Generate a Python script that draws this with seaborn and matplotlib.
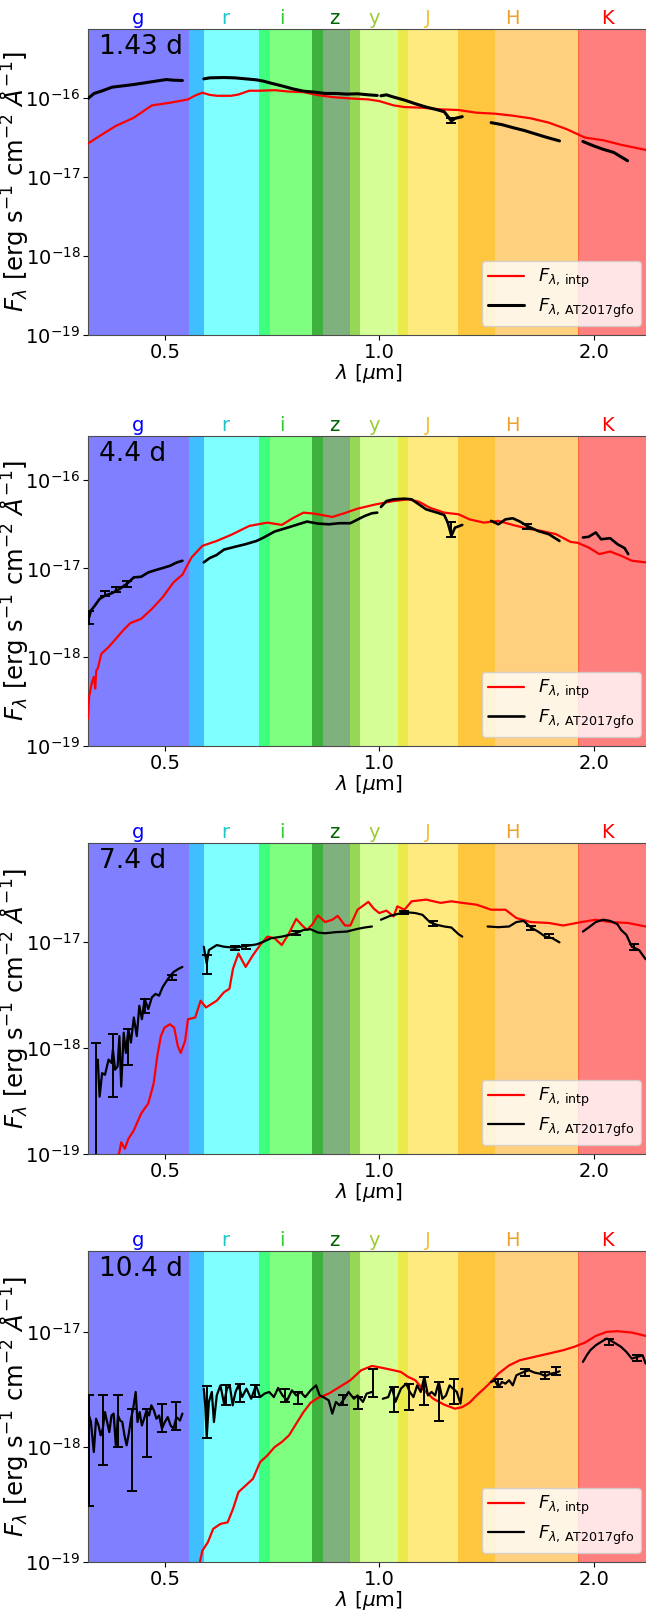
import numpy as np
import matplotlib
matplotlib.use("Agg")
import matplotlib.pyplot as plt
import seaborn as sns
from matplotlib.ticker import FixedLocator, FixedFormatter, NullLocator, LogLocator

# ---------------- data ----------------
epochs = ["1.43 d", "4.4 d", "7.4 d", "10.4 d"]
ytops = [7.5e-16, 3.1e-16, 8.5e-17, 5.0e-17]

bands = ["g", "r", "i", "z", "y", "J", "H", "K"]
band_lo = [0.30, 0.541, 0.677, 0.804, 0.909, 1.061, 1.288, 1.900]
band_hi = [0.567, 0.702, 0.833, 0.939, 1.099, 1.453, 1.906, 2.60]
band_fill = ["blue", "cyan", "lime", "darkgreen", "greenyellow", "gold", "orange", "red"]
band_label_x = [0.458, 0.607, 0.73, 0.865, 0.985, 1.17, 1.536, 2.09]
band_text = ["blue", "#1cc4cc", "#2ecc2e", "darkgreen", "yellowgreen", "#f2c12e", "#eda12a", "red"]

# ---- panel 1 (1.43 d)
red1_lam = [0.390, 0.4072, 0.4267, 0.4523, 0.4795, 0.5082, 0.5388, 0.5515, 0.5645, 0.5778, 0.5914,
            0.6197, 0.6343, 0.657, 0.6804, 0.7129, 0.7464, 0.7828, 0.82, 0.8592, 0.9108, 0.9655,
            0.9999, 1.0478, 1.085, 1.150, 1.219, 1.293, 1.370, 1.453, 1.540, 1.633, 1.730, 1.835,
            1.945, 2.062, 2.186, 2.366, 2.45]
red1_flux = [2.66e-17, 3.42e-17, 4.44e-17, 5.65e-17, 8.09e-17, 8.73e-17, 9.62e-17, 1.08e-16, 1.17e-16,
             1.10e-16, 1.07e-16, 1.07e-16, 1.11e-16, 1.24e-16, 1.24e-16, 1.26e-16, 1.21e-16, 1.19e-16,
             1.09e-16, 1.03e-16, 9.90e-17, 9.62e-17, 9.17e-17, 8.09e-17, 7.70e-17, 7.55e-17, 7.20e-17,
             7.06e-17, 6.53e-17, 6.35e-17, 5.99e-17, 5.54e-17, 4.89e-17, 4.03e-17, 3.16e-17, 2.93e-17,
             2.56e-17, 2.21e-17, 2.05e-17]
obs1_lam = [
    [0.390, 0.3978, 0.4072, 0.4217, 0.4368, 0.4523, 0.4683, 0.4851, 0.5024, 0.5142, 0.5292],
    [0.5671, 0.5778, 0.6054, 0.6269, 0.6493, 0.6726, 0.6884, 0.7045, 0.7296, 0.7557, 0.7828, 0.8105,
     0.8395, 0.8693, 0.9004, 0.9322, 0.9655, 0.9936],
    [1.0055, 1.0236, 1.0478, 1.085, 1.1238, 1.1638, 1.2052, 1.2337, 1.2627, 1.2777, 1.308],
    [1.436, 1.487, 1.540, 1.595, 1.652, 1.711, 1.791],
    [1.932, 2.001, 2.062, 2.135, 2.186, 2.232],
]
obs1_flux = [
    [9.90e-17, 1.145e-16, 1.225e-16, 1.376e-16, 1.43e-16, 1.487e-16, 1.56e-16, 1.637e-16, 1.719e-16,
     1.686e-16, 1.67e-16],
    [1.753e-16, 1.804e-16, 1.822e-16, 1.804e-16, 1.753e-16, 1.702e-16, 1.637e-16, 1.546e-16, 1.43e-16,
     1.311e-16, 1.225e-16, 1.19e-16, 1.145e-16, 1.145e-16, 1.123e-16, 1.134e-16, 1.10e-16, 1.08e-16],
    [1.07e-16, 1.10e-16, 1.03e-16, 9.44e-17, 8.48e-17, 7.70e-17, 7.13e-17, 6.72e-17, 5.13e-17, 5.54e-17,
     5.82e-17],
    [4.89e-17, 4.61e-17, 4.23e-17, 3.91e-17, 3.55e-17, 3.22e-17, 2.87e-17],
    [2.82e-17, 2.48e-17, 2.25e-17, 2.05e-17, 1.80e-17, 1.61e-17],
]
err1_lam = [1.2627]
err1_lo = [4.9e-17]
err1_hi = [5.6e-17]

# ---- panel 2 (4.4 d)
red2_lam = [0.390, 0.3914, 0.3946, 0.3974, 0.3992, 0.4006, 0.4025, 0.4072, 0.4168, 0.4267, 0.4368,
            0.4471, 0.463, 0.4795, 0.4964, 0.5142, 0.5292, 0.5450, 0.5645, 0.5914, 0.6197, 0.657,
            0.6966, 0.7298, 0.7557, 0.7828, 0.8105, 0.8592, 0.8898, 0.9322, 0.9884, 1.0478, 1.0978,
            1.1369, 1.1775, 1.2337, 1.2926, 1.3387, 1.4027, 1.4698, 1.540, 1.6134, 1.6905, 1.7711,
            1.8560, 1.9006, 1.9677, 2.0375, 2.1098, 2.1855, 2.2635, 2.366]
red2_flux = [2.04e-19, 3.57e-19, 5.05e-19, 6.0e-19, 4.44e-19, 7.11e-19, 7.43e-19, 1.094e-18, 1.30e-18,
             1.61e-18, 2.0e-18, 2.42e-18, 2.70e-18, 3.50e-18, 4.73e-18, 6.97e-18, 8.49e-18, 1.33e-17,
             1.795e-17, 2.04e-17, 2.39e-17, 3.01e-17, 3.28e-17, 3.09e-17, 3.67e-17, 4.25e-17, 4.14e-17,
             3.80e-17, 4.14e-17, 4.71e-17, 5.26e-17, 5.74e-17, 6.0e-17, 5.64e-17, 4.83e-17, 4.25e-17,
             4.07e-17, 3.57e-17, 3.28e-17, 3.43e-17, 3.09e-17, 2.81e-17, 2.64e-17, 2.43e-17, 1.99e-17,
             1.94e-17, 1.72e-17, 1.45e-17, 1.55e-17, 1.39e-17, 1.22e-17, 1.17e-17]
obs2_lam = [
    [0.3914, 0.3937, 0.3978, 0.4049, 0.412, 0.4217, 0.4317, 0.4419, 0.4523, 0.463, 0.4739, 0.4851,
     0.4964, 0.5082, 0.5201, 0.5292],
    [0.5671, 0.5778, 0.5914, 0.6054, 0.6269, 0.6493, 0.6726, 0.6884, 0.7129, 0.7383, 0.7646, 0.7918,
     0.82, 0.8493, 0.8795, 0.9108, 0.9322, 0.9544, 0.9768, 0.9936],
    [1.0055, 1.0236, 1.0478, 1.085, 1.1104, 1.1369, 1.1638, 1.2052, 1.2337, 1.2481, 1.2627, 1.2777, 1.308],
    [1.436, 1.470, 1.504, 1.540, 1.576, 1.613, 1.671, 1.730, 1.791],
    [1.932, 1.968, 2.014, 2.049, 2.110, 2.160, 2.211, 2.237],
]
obs2_flux = [
    [2.82e-18, 3.35e-18, 3.72e-18, 4.53e-18, 4.93e-18, 5.28e-18, 5.86e-18, 6.67e-18, 7.93e-18, 8.05e-18,
     9.01e-18, 9.57e-18, 1.009e-17, 1.07e-17, 1.17e-17, 1.22e-17],
    [1.17e-17, 1.306e-17, 1.42e-17, 1.63e-17, 1.75e-17, 1.875e-17, 2.04e-17, 2.23e-17, 2.60e-17, 2.83e-17,
     3.09e-17, 3.37e-17, 3.20e-17, 3.14e-17, 3.23e-17, 3.23e-17, 3.55e-17, 3.90e-17, 4.18e-17, 4.25e-17],
    [4.92e-17, 5.74e-17, 6.0e-17, 6.1e-17, 6.0e-17, 5.26e-17, 4.63e-17, 4.25e-17, 4.0e-17, 3.28e-17,
     2.33e-17, 2.88e-17, 3.09e-17],
    [3.43e-17, 3.14e-17, 3.57e-17, 3.67e-17, 3.37e-17, 3.01e-17, 2.64e-17, 2.43e-17, 2.04e-17],
    [2.23e-17, 2.27e-17, 2.54e-17, 2.13e-17, 2.19e-17, 1.875e-17, 1.69e-17, 1.45e-17],
]
err2_lam = [0.3914, 0.412, 0.4267, 0.4419, 1.2627, 1.6134]
err2_lo = [2.37e-18, 4.85e-18, 5.38e-18, 6.22e-18, 2.27e-17, 2.75e-17]
err2_hi = [3.35e-18, 5.62e-18, 6.12e-18, 7.28e-18, 3.3e-17, 3.2e-17]

# ---- panel 3 (7.4 d)
red3_lam = [0.425, 0.4317, 0.4342, 0.4394, 0.4444, 0.4523, 0.463, 0.4739, 0.4823, 0.4879, 0.4936,
            0.4994, 0.5082, 0.5153, 0.5214, 0.5263, 0.5338, 0.5388, 0.5515, 0.5613, 0.5711, 0.5914,
            0.6054, 0.6161, 0.6233, 0.6343, 0.6493, 0.6647, 0.6804, 0.6965, 0.7129, 0.7298, 0.7470,
            0.7646, 0.7781, 0.7918, 0.8059, 0.82, 0.8395, 0.8592, 0.8744, 0.8951, 0.9108, 0.9322,
            0.9655, 0.9825, 0.9999, 1.0236, 1.0478, 1.0601, 1.085, 1.1104, 1.1638, 1.2193, 1.2627,
            1.308, 1.3703, 1.436, 1.504, 1.558, 1.6325, 1.7304, 1.813, 1.922, 2.014, 2.110, 2.237, 2.366]
red3_flux = [8.0e-20, 1.04e-19, 1.29e-19, 1.12e-19, 1.39e-19, 1.67e-19, 2.40e-19, 2.99e-19, 4.64e-19,
             8.33e-19, 1.29e-18, 1.55e-18, 1.67e-18, 1.55e-18, 1.04e-18, 8.96e-19, 1.16e-18, 1.86e-18,
             1.93e-18, 2.78e-18, 2.40e-18, 2.78e-18, 3.34e-18, 3.60e-18, 5.57e-18, 7.74e-18, 5.78e-18,
             7.46e-18, 9.29e-18, 1.116e-17, 1.076e-17, 9.29e-18, 1.20e-17, 1.64e-17, 1.44e-17, 1.29e-17,
             1.46e-17, 1.77e-17, 1.53e-17, 1.61e-17, 1.75e-17, 1.42e-17, 1.42e-17, 2.0e-17, 2.37e-17,
             2.05e-17, 1.86e-17, 1.96e-17, 1.73e-17, 2.15e-17, 2.0e-17, 2.40e-17, 2.49e-17, 2.32e-17,
             2.40e-17, 2.32e-17, 2.23e-17, 2.0e-17, 2.0e-17, 1.67e-17, 1.53e-17, 1.50e-17, 1.42e-17,
             1.53e-17, 1.61e-17, 1.53e-17, 1.50e-17, 1.39e-17]
obs3_lam = [
    [0.4003, 0.4025, 0.4049, 0.4082, 0.4120, 0.4168, 0.4208, 0.4227, 0.4257, 0.4292, 0.4317, 0.4342,
     0.4377, 0.4408, 0.4444, 0.448, 0.4523, 0.4566, 0.4604, 0.4643, 0.4683, 0.4739, 0.4795, 0.4851,
     0.4908, 0.4964, 0.5053, 0.5142, 0.5232, 0.5292],
    [0.5671, 0.5698, 0.5725, 0.5765, 0.5813, 0.5914, 0.6054, 0.6269, 0.6493, 0.6726, 0.6884, 0.7045,
     0.7298, 0.7470, 0.7646, 0.7828, 0.8011, 0.82, 0.8395, 0.8693, 0.9004, 0.9322, 0.9544, 0.9768],
    [1.0055, 1.0356, 1.0601, 1.085, 1.1238, 1.150, 1.1775, 1.2052, 1.2337, 1.2627, 1.2926, 1.308],
    [1.4195, 1.470, 1.522, 1.558, 1.595, 1.633, 1.671, 1.711, 1.751, 1.791],
    [1.932, 1.968, 2.014, 2.062, 2.110, 2.160, 2.186, 2.224, 2.263, 2.317, 2.366],
]
obs3_flux = [
    [6.22e-19, 7.74e-19, 3.47e-19, 5.78e-19, 5.57e-19, 7.74e-19, 7.20e-19, 9.64e-19, 6.22e-19, 6.69e-19,
     1.29e-18, 4.32e-19, 1.39e-18, 8.96e-19, 1.50e-18, 1.12e-18, 1.93e-18, 1.29e-18, 2.49e-18, 1.86e-18,
     2.89e-18, 2.32e-18, 2.99e-18, 3.22e-18, 3.10e-18, 3.73e-18, 4.48e-18, 5.18e-18, 5.57e-18, 5.78e-18],
    [8.96e-18, 7.46e-18, 6.22e-18, 8.33e-18, 8.64e-18, 9.29e-18, 8.96e-18, 8.77e-18, 9.09e-18, 9.43e-18,
     1.0e-17, 1.076e-17, 1.116e-17, 1.157e-17, 1.20e-17, 1.29e-17, 1.31e-17, 1.22e-17, 1.20e-17,
     1.23e-17, 1.245e-17, 1.32e-17, 1.36e-17, 1.39e-17],
    [1.61e-17, 1.75e-17, 1.82e-17, 1.90e-17, 1.86e-17, 1.79e-17, 1.53e-17, 1.44e-17, 1.39e-17, 1.36e-17,
     1.175e-17, 1.116e-17],
    [1.39e-17, 1.37e-17, 1.39e-17, 1.53e-17, 1.57e-17, 1.36e-17, 1.245e-17, 1.116e-17, 1.076e-17, 9.85e-18],
    [1.245e-17, 1.36e-17, 1.53e-17, 1.61e-17, 1.57e-17, 1.46e-17, 1.29e-17, 1.157e-17, 8.96e-18, 8.33e-18,
     6.84e-18],
]
err3_lam = [0.4003, 0.4227, 0.4444, 0.4683, 0.511, 0.5725, 0.6269, 0.6493, 0.7646, 1.085, 1.19,
            1.633, 1.730, 2.28]
err3_lo = [1e-21, 3.47e-19, 6.93e-19, 2.15e-18, 4.31e-18, 4.99e-18, 8.4e-18, 8.6e-18, 1.15e-17,
           1.82e-17, 1.42e-17, 1.30e-17, 1.08e-17, 8.4e-18]
err3_hi = [1.12e-18, 1.34e-18, 1.50e-18, 2.89e-18, 4.82e-18, 7.46e-18, 9.2e-18, 9.4e-18, 1.25e-17,
           1.95e-17, 1.55e-17, 1.42e-17, 1.17e-17, 9.5e-18]

# ---- panel 4 (10.4 d)
red4_lam = [0.558, 0.5645, 0.5745, 0.5846, 0.5984, 0.6125, 0.6233, 0.6343, 0.6493, 0.6647, 0.6804,
            0.6965, 0.7129, 0.7298, 0.747, 0.7646, 0.7828, 0.8011, 0.82, 0.8493, 0.8795, 0.9108,
            0.9431, 0.9768, 1.0116, 1.0478, 1.0725, 1.0978, 1.1238, 1.150, 1.191, 1.2337, 1.2777,
            1.308, 1.3387, 1.3703, 1.4195, 1.470, 1.522, 1.576, 1.652, 1.730, 1.813, 1.877, 1.945,
            2.014, 2.086, 2.160, 2.263, 2.366]
red4_flux = [8.99e-20, 1.256e-19, 1.48e-19, 1.94e-19, 2.14e-19, 2.21e-19, 2.89e-19, 4.04e-19, 4.61e-19,
             5.27e-19, 7.36e-19, 8.41e-19, 9.93e-19, 1.10e-18, 1.256e-18, 1.585e-18, 2.0e-18, 2.41e-18,
             2.65e-18, 2.89e-18, 3.30e-18, 3.78e-18, 4.61e-18, 5.03e-18, 4.83e-18, 4.61e-18, 4.46e-18,
             4.04e-18, 3.78e-18, 3.19e-18, 2.61e-18, 2.32e-18, 2.14e-18, 2.21e-18, 2.41e-18, 2.79e-18,
             3.41e-18, 4.31e-18, 5.09e-18, 5.64e-18, 6.03e-18, 6.44e-18, 6.89e-18, 7.36e-18, 8.02e-18,
             9.17e-18, 9.93e-18, 1.007e-17, 9.8e-18, 9.17e-18]
obs4_lam = [
    [0.390, 0.3937, 0.3974, 0.4003, 0.4035, 0.4063, 0.4091, 0.412, 0.4149, 0.4178, 0.4208, 0.4237,
     0.4267, 0.4297, 0.4327, 0.4358, 0.4388, 0.4419, 0.445, 0.4482, 0.4513, 0.4550, 0.4577, 0.4609,
     0.4642, 0.4675, 0.4713, 0.4752, 0.4786, 0.4826, 0.4866, 0.4908, 0.4953, 0.5, 0.5047, 0.5094,
     0.5142, 0.519, 0.5251, 0.5292],
    [0.5671, 0.5698, 0.5725, 0.5765, 0.582, 0.586, 0.5914, 0.5984, 0.6054, 0.6111, 0.6168, 0.6226,
     0.6284, 0.6343, 0.6418, 0.6509, 0.661, 0.6712, 0.6804, 0.69, 0.7006, 0.7113, 0.7212, 0.7314,
     0.7426, 0.754, 0.7646, 0.7753, 0.7872, 0.8011, 0.8153, 0.8248, 0.8345, 0.8493, 0.8592, 0.8693,
     0.8795, 0.8898, 0.9055, 0.9214, 0.9322, 0.9487, 0.9599, 0.9768],
    [1.0116, 1.0296, 1.0417, 1.0539, 1.0725, 1.0913, 1.104, 1.117, 1.1304, 1.1436, 1.157, 1.1706,
     1.1844, 1.1982, 1.2123, 1.2265, 1.2409, 1.2554, 1.2702, 1.2851, 1.3002, 1.308],
    [1.436, 1.4527, 1.470, 1.487, 1.504, 1.522, 1.540, 1.558, 1.576, 1.595, 1.623, 1.652, 1.681,
     1.711, 1.741, 1.771, 1.791],
    [1.932, 1.956, 1.979, 2.014, 2.049, 2.086, 2.110, 2.148, 2.186, 2.224, 2.263, 2.303, 2.344, 2.366],
]
obs4_flux = [
    [2.0e-18, 1.64e-18, 9.0e-19, 1.75e-18, 1.53e-18, 1.256e-18, 1.435e-18, 2.0e-18, 1.64e-18, 1.34e-18,
     1.87e-18, 1.94e-18, 1.03e-18, 1.87e-18, 1.69e-18, 1.64e-18, 1.256e-18, 1.03e-18, 1.30e-18, 1.75e-18,
     2.14e-18, 2.99e-18, 1.64e-18, 2.0e-18, 1.53e-18, 1.75e-18, 2.07e-18, 1.87e-18, 2.29e-18, 2.07e-18,
     1.75e-18, 1.87e-18, 1.435e-18, 1.64e-18, 1.81e-18, 1.53e-18, 1.435e-18, 1.81e-18, 1.69e-18, 1.94e-18],
    [3.19e-18, 2.29e-18, 1.21e-18, 2.45e-18, 2.99e-18, 1.64e-18, 2.79e-18, 3.41e-18, 2.37e-18, 3.19e-18,
     3.41e-18, 2.29e-18, 2.99e-18, 3.41e-18, 2.70e-18, 3.19e-18, 2.61e-18, 3.41e-18, 2.70e-18, 2.89e-18,
     2.99e-18, 2.70e-18, 3.24e-18, 2.79e-18, 2.53e-18, 3.09e-18, 2.79e-18, 2.99e-18, 2.70e-18, 3.09e-18,
     3.41e-18, 2.79e-18, 2.70e-18, 2.53e-18, 1.94e-18, 2.45e-18, 2.29e-18, 2.53e-18, 2.99e-18, 2.61e-18,
     2.79e-18, 2.45e-18, 2.89e-18, 2.99e-18],
    [2.61e-18, 2.70e-18, 3.30e-18, 2.45e-18, 3.19e-18, 3.53e-18, 2.99e-18, 2.70e-18, 3.41e-18, 2.99e-18,
     4.04e-18, 2.79e-18, 2.99e-18, 2.79e-18, 3.65e-18, 2.61e-18, 2.79e-18, 3.41e-18, 3.19e-18, 2.99e-18,
     2.37e-18, 3.19e-18],
    [3.65e-18, 3.78e-18, 3.30e-18, 3.65e-18, 3.53e-18, 3.78e-18, 3.41e-18, 4.17e-18, 4.31e-18, 4.46e-18,
     4.61e-18, 4.40e-18, 4.31e-18, 4.11e-18, 4.31e-18, 4.40e-18, 4.52e-18],
    [5.45e-18, 6.22e-18, 6.89e-18, 7.60e-18, 8.13e-18, 8.69e-18, 8.41e-18, 7.87e-18, 7.36e-18, 6.65e-18,
     5.82e-18, 6.03e-18, 6.22e-18, 5.27e-18],
]
err4_lam = [0.3914, 0.4091, 0.4292, 0.4497, 0.4713, 0.4953, 0.519, 0.5725, 0.6089, 0.638, 0.6688,
            0.7383, 0.7689, 0.8898, 0.9322, 0.9791, 1.0502, 1.1002, 1.157, 1.2123, 1.2746, 1.470,
            1.604, 1.711, 1.771, 2.10, 2.30]
err4_lo = [3.09e-19, 6.89e-19, 9.93e-19, 4.17e-19, 8.13e-19, 1.34e-18, 1.39e-18, 1.19e-18, 2.29e-18,
           2.45e-18, 2.70e-18, 2.45e-18, 2.37e-18, 2.29e-18, 2.14e-18, 2.70e-18, 2.0e-18, 2.07e-18,
           2.29e-18, 1.66e-18, 2.37e-18, 3.30e-18, 4.11e-18, 3.90e-18, 4.17e-18, 7.6e-18, 5.5e-18]
err4_hi = [2.79e-18, 2.79e-18, 2.83e-18, 2.11e-18, 2.11e-18, 2.37e-18, 2.45e-18, 3.37e-18, 3.41e-18,
           3.53e-18, 3.41e-18, 3.19e-18, 2.99e-18, 2.79e-18, 2.70e-18, 4.77e-18, 3.30e-18, 3.53e-18,
           4.04e-18, 3.65e-18, 3.85e-18, 3.90e-18, 4.70e-18, 4.46e-18, 4.93e-18, 8.6e-18, 6.3e-18]

panels = [
    (red1_lam, red1_flux, obs1_lam, obs1_flux, err1_lam, err1_lo, err1_hi, 2.2),
    (red2_lam, red2_flux, obs2_lam, obs2_flux, err2_lam, err2_lo, err2_hi, 1.9),
    (red3_lam, red3_flux, obs3_lam, obs3_flux, err3_lam, err3_lo, err3_hi, 1.6),
    (red4_lam, red4_flux, obs4_lam, obs4_flux, err4_lam, err4_lo, err4_hi, 1.6),
]

# ---------------- figure ----------------
sns.set_style("ticks")
plt.rcParams["font.family"] = ["DejaVu Sans"]
plt.rcParams["axes.edgecolor"] = "0.3"
plt.rcParams["text.color"] = "black"
plt.rcParams["axes.labelcolor"] = "black"
plt.rcParams["xtick.color"] = "black"
plt.rcParams["ytick.color"] = "black"
plt.rcParams["mathtext.fontset"] = "dejavusans"

W, H = 646, 1610
fig = plt.figure(figsize=(W / 100, H / 100), dpi=100)

ax_left = 88 / W
ax_w = 562 / W
tops = [29, 436, 843, 1251]
heights = [306, 310, 311, 311]
ylab_fs = 14.0
axes = []

for i, (rl, rf, ol, of, el, elo, ehi, blw) in enumerate(panels):
    ax = fig.add_axes([ax_left, 1 - (tops[i] + heights[i]) / H, ax_w, heights[i] / H])
    axes.append(ax)
    for k in range(len(bands)):
        ax.axvspan(band_lo[k], band_hi[k], color=band_fill[k], alpha=0.5, lw=0, zorder=0)

    sns.lineplot(x=rl, y=rf, ax=ax, color="red", lw=1.6, estimator=None, sort=False,
                 label=r"$F_{\lambda,\,\mathrm{intp}}$", zorder=3)
    for j in range(len(ol)):
        sns.lineplot(x=ol[j], y=of[j], ax=ax, color="black", lw=blw, estimator=None, sort=False,
                     label=(r"$F_{\lambda,\,\mathrm{AT2017gfo}}$" if j == 0 else None), zorder=4)
    lo = np.array(elo)
    hi = np.array(ehi)
    ctr = np.sqrt(lo * hi)
    ax.errorbar(el, ctr, yerr=[ctr - lo, hi - ctr], fmt="none", ecolor="black",
                elinewidth=1.4, capsize=3.5, capthick=1.4, zorder=4)

    ax.set_xscale("log")
    ax.set_yscale("log")
    ax.set_xlim(0.39, 2.4)
    ax.set_ylim(1e-19, ytops[i])
    ax.xaxis.set_major_locator(FixedLocator([0.5, 1.0, 2.0]))
    ax.xaxis.set_major_formatter(FixedFormatter(["0.5", "1.0", "2.0"]))
    ax.xaxis.set_minor_locator(NullLocator())
    ax.yaxis.set_major_locator(LogLocator(base=10, numticks=10))
    ax.yaxis.set_minor_locator(NullLocator())
    ax.tick_params(axis="both", labelsize=14, length=3.5, width=0.8, pad=2)

    ax.set_xlabel(r"$\lambda$ [$\mu$m]", fontsize=14.5, labelpad=0)
    ax.set_ylabel(r"$F_\lambda$ [erg s$^{-1}$ cm$^{-2}$ $\AA^{-1}$]", fontsize=ylab_fs,
                  ha="center", va="center")
    ax.yaxis.set_label_coords((14.5 - 88) / 562, 0.5)

    ax.text(0.02, 0.985, epochs[i], transform=ax.transAxes, ha="left", va="top",
            fontsize=19, color="black")
    for k in range(len(bands)):
        ax.text(band_label_x[k], 1.016, bands[k], transform=ax.get_xaxis_transform(),
                ha="center", va="baseline", color=band_text[k], fontsize=14)

    ax.legend(loc="lower right", fontsize=13, frameon=True, framealpha=0.8,
              borderaxespad=0.5, labelspacing=0.35, borderpad=0.35)

# scale the y labels so their length matches the reference (~262 px)
fig.canvas.draw()
renderer = fig.canvas.get_renderer()
h = axes[0].yaxis.label.get_window_extent(renderer).height
new_fs = ylab_fs * 262.0 / h
for ax in axes:
    ax.yaxis.label.set_fontsize(new_fs)

fig.savefig("out.png", dpi=100)
